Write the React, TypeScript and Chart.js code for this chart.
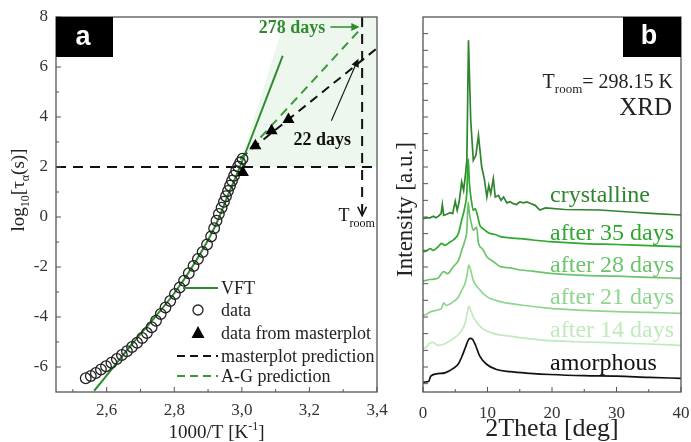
import React, { useEffect, useRef } from "react";
import { Chart, registerables } from "chart.js";
Chart.register(...registerables);

const SERIF = '"Liberation Serif", "Times New Roman", serif';
const SANS = '"Liberation Sans", Arial, sans-serif';

// ---------------- Panel a data ----------------
const aXRange = [2.45, 3.4];
const aYRange = [-7, 8];
const aXTicks = [2.6, 2.8, 3.0, 3.2, 3.4];
const aXMinor = [2.5, 2.7, 2.9, 3.1, 3.3];
const aYTicks = [-6, -4, -2, 0, 2, 4, 6, 8];
const aYMinor = [-5, -3, -1, 1, 3, 5, 7];

const dataX = [2.538, 2.553, 2.568, 2.583, 2.598, 2.614, 2.63, 2.645, 2.66, 2.675, 2.69, 2.705, 2.719, 2.733, 2.746, 2.76, 2.774, 2.788, 2.802, 2.816, 2.829, 2.843, 2.857, 2.87, 2.884, 2.897, 2.909, 2.918, 2.925, 2.932, 2.94, 2.947, 2.953, 2.959, 2.965, 2.971, 2.977, 2.983, 2.989, 2.995, 3.002];
const dataY = [-6.45, -6.36, -6.24, -6.1, -5.97, -5.83, -5.68, -5.52, -5.37, -5.2, -5.03, -4.84, -4.64, -4.41, -4.15, -3.88, -3.62, -3.36, -3.08, -2.82, -2.55, -2.25, -1.96, -1.68, -1.4, -1.1, -0.78, -0.45, -0.15, 0.12, 0.37, 0.61, 0.83, 1.04, 1.25, 1.45, 1.65, 1.84, 2.02, 2.18, 2.33];

const masterX = [3.003, 3.04, 3.088, 3.138];
const masterY = [1.78, 2.85, 3.45, 3.9];

const vftX = [2.563, 2.62, 2.68, 2.74, 2.8, 2.86, 2.92, 2.96, 3.0, 3.06, 3.121];
const vftY = [-6.95, -6.0, -5.0, -4.05, -3.05, -1.85, -0.4, 0.9, 2.2, 4.3, 6.45];

const mpPredX = [2.995, 3.4];
const mpPredY = [2.35, 6.75];
const agPredX = [2.995, 3.357];
const agPredY = [2.3, 7.6];

const levelX = [2.45, 3.4];
const levelY = [2, 2];
const troomLineX = [3.356, 3.356];
const troomLineY = [8, 0.05];

const shadeX = [3.0, 3.0, 3.13, 3.4, 3.4];
const shadeY = [2.0, 2.4, 8.0, 8.0, 2.0];

// ---------------- Panel b data ----------------
const bXRange = [0, 40];
const bYRange = [-0.5, 22];
const bXTicks = [0, 10, 20, 30, 40];
const bXMinor = [5, 15, 25, 35];
const bYTicks = [0, 1, 2, 3, 4, 5, 6, 7, 8, 9, 10, 11, 12, 13, 14, 15, 16, 17, 18, 19, 20, 21];

const amorphX = [0, 0.3, 0.9, 1.2, 2.3, 3.4, 4.7, 5.5, 6.0, 6.6, 7.0, 7.3, 7.7, 8.1, 8.8, 9.9, 11.4, 13.5, 16.6, 19.7, 25, 30, 35, 40];
const amorphY = [0.08, 0.1, 0.15, 0.45, 0.6, 0.65, 0.92, 1.2, 1.6, 2.2, 2.6, 2.72, 2.65, 2.35, 1.65, 1.15, 0.85, 0.72, 0.62, 0.55, 0.48, 0.45, 0.38, 0.32];

const d14X = [0, 0.5, 1.0, 1.5, 2.3, 3.4, 4.7, 5.5, 6.0, 6.5, 6.8, 7.1, 7.4, 7.8, 8.3, 9.1, 10.9, 13.5, 16.0, 19.7, 25, 30, 35, 40];
const d14Y = [2.12, 2.2, 2.42, 2.48, 2.3, 2.4, 2.7, 2.95, 3.2, 3.6, 4.1, 4.65, 4.4, 4.0, 3.7, 3.35, 3.02, 2.85, 2.72, 2.58, 2.5, 2.45, 2.38, 2.3];

const d21X = [0, 0.5, 1.1, 2.3, 2.9, 3.2, 3.6, 4.7, 5.5, 6.0, 6.5, 6.8, 7.1, 7.4, 7.8, 8.6, 9.9, 12.0, 15.1, 19.7, 25, 30, 35, 40];
const d21Y = [4.1, 4.15, 4.3, 4.42, 4.55, 4.85, 4.7, 4.92, 5.2, 5.6, 6.0, 6.45, 7.12, 6.8, 6.2, 5.72, 5.22, 4.92, 4.72, 4.52, 4.4, 4.32, 4.28, 4.22];

const d28X = [0, 0.5, 1.1, 2.3, 3.2, 3.8, 4.7, 5.5, 6.0, 6.5, 6.8, 7.0, 7.2, 7.5, 7.8, 8.3, 8.6, 9.2, 9.9, 11.0, 12.0, 13.5, 15.1, 17.0, 19.7, 25, 30, 35, 40];
const d28Y = [6.15, 6.2, 6.25, 6.32, 6.72, 6.6, 7.02, 7.4, 8.0, 8.6, 9.2, 10.9, 10.2, 9.6, 9.2, 9.4, 8.42, 8.1, 7.62, 7.3, 7.02, 6.95, 6.82, 6.75, 6.62, 6.5, 6.45, 6.38, 6.32];

const d35X = [0, 0.5, 1.1, 1.6, 2.3, 2.9, 3.4, 4.2, 4.7, 5.5, 6.0, 6.5, 6.8, 7.0, 7.2, 7.5, 7.8, 8.1, 8.5, 8.8, 9.3, 9.9, 10.5, 11.2, 12.0, 13.5, 15.1, 17.0, 19.7, 25, 30, 35, 40];
const d35Y = [7.92, 7.95, 8.1, 8.0, 8.2, 8.42, 8.3, 8.5, 8.62, 9.02, 9.82, 10.62, 11.5, 13.5, 12.0, 11.0, 10.4, 10.5, 10.0, 9.52, 9.3, 9.12, 9.0, 8.95, 8.82, 8.75, 8.7, 8.62, 8.52, 8.4, 8.35, 8.28, 8.22];

const crystX = [0, 0.5, 1.1, 1.6, 2.0, 2.4, 2.8, 3.0, 3.2, 3.6, 4.2, 4.6, 5.0, 5.3, 5.6, 6.0, 6.3, 6.6, 6.8, 7.05, 7.4, 7.8, 8.2, 8.6, 9.1, 9.5, 9.9, 10.2, 10.5, 10.9, 11.2, 11.7, 12.1, 12.5, 13.0, 13.5, 14.0, 14.5, 15.0, 15.6, 16.1, 16.6, 17.4, 18.1, 19.0, 22, 27.4, 32, 36, 40];
const crystY = [9.9, 9.95, 9.95, 10.05, 9.95, 10.05, 10.2, 10.75, 10.1, 10.15, 10.26, 10.2, 10.95, 10.4, 10.9, 12.1, 11.6, 12.6, 13.4, 20.6, 15.8, 13.4, 13.7, 14.9, 13.0, 12.3, 11.2, 11.9, 11.4, 12.3, 11.2, 11.3, 11.0, 11.2, 10.85, 10.92, 10.8, 10.75, 10.9, 10.85, 10.9, 10.82, 10.7, 10.42, 10.55, 10.45, 10.42, 10.3, 10.2, 10.12];

const bNames = ["crystalline", "after 35 days", "after 28 days", "after 21 days", "after 14 days", "amorphous"];
const bLabelY = [11.32, 9.04, 7.12, 5.2, 3.22, 1.24];
const bLabelX = 19.7;

const GREEN = "#2e8b2e";
const GREEN2 = "#3a9a3a";
const bColors = ["#2f852f", "#2ea82e", "#6cc46c", "#8ed68e", "#c0eabc", "#111111"];
const SHADE = "#edf7ee";

const pts = (xs: number[], ys: number[]) => xs.map((x, i) => ({ x, y: ys[i] }));

type Seg = { t: string; size: number; dy?: number; bold?: boolean; family?: string };
function segFont(s: Seg) {
  return `${s.bold ? "bold " : ""}${s.size}px ${s.family || SERIF}`;
}
function drawRich(ctx: CanvasRenderingContext2D, segs: Seg[], x: number, y: number, align: string) {
  let w = 0;
  segs.forEach((s) => {
    ctx.font = segFont(s);
    w += ctx.measureText(s.t).width;
  });
  let cx = align === "left" ? x : align === "center" ? x - w / 2 : x - w;
  ctx.textAlign = "left";
  ctx.textBaseline = "alphabetic";
  segs.forEach((s) => {
    ctx.font = segFont(s);
    ctx.fillText(s.t, cx, y + (s.dy || 0));
    cx += ctx.measureText(s.t).width;
  });
}
function arrowHead(ctx: CanvasRenderingContext2D, fx: number, fy: number, tx: number, ty: number, size: number, filled: boolean) {
  const a = Math.atan2(ty - fy, tx - fx);
  const w = 0.45;
  ctx.beginPath();
  ctx.moveTo(tx - size * Math.cos(a - w), ty - size * Math.sin(a - w));
  ctx.lineTo(tx, ty);
  ctx.lineTo(tx - size * Math.cos(a + w), ty - size * Math.sin(a + w));
  if (filled) {
    ctx.closePath();
    ctx.fill();
  } else ctx.stroke();
}
function drawFrameTicks(ctx: CanvasRenderingContext2D, chart: any, xMajor: number[], xMinor: number[], yMajor: number[], yMinor: number[], yMinLen: number) {
  const { chartArea: ar, scales } = chart;
  ctx.save();
  ctx.strokeStyle = "#555";
  ctx.lineWidth = 1.3;
  ctx.strokeRect(ar.left, ar.top, ar.right - ar.left, ar.bottom - ar.top);
  ctx.lineWidth = 1;
  const tx = (vals: number[], len: number) =>
    vals.forEach((v) => {
      const p = scales.x.getPixelForValue(v);
      ctx.beginPath();
      ctx.moveTo(p, ar.bottom);
      ctx.lineTo(p, ar.bottom - len);
      ctx.stroke();
    });
  const ty = (vals: number[], len: number) =>
    vals.forEach((v) => {
      const p = scales.y.getPixelForValue(v);
      ctx.beginPath();
      ctx.moveTo(ar.left, p);
      ctx.lineTo(ar.left + len, p);
      ctx.stroke();
    });
  tx(xMajor, 5);
  tx(xMinor, 3);
  ty(yMajor, 5);
  ty(yMinor, yMinLen);
  ctx.restore();
}

const panelAPlugin = {
  id: "panelA",
  beforeDatasetsDraw(chart: any) {
    const { ctx, scales } = chart;
    ctx.save();
    ctx.beginPath();
    shadeX.forEach((v, i) => {
      const px = scales.x.getPixelForValue(v);
      const py = scales.y.getPixelForValue(shadeY[i]);
      if (i) ctx.lineTo(px, py);
      else ctx.moveTo(px, py);
    });
    ctx.closePath();
    ctx.fillStyle = SHADE;
    ctx.fill();
    ctx.restore();
  },
  afterDraw(chart: any) {
    const { ctx, chartArea: ar, scales } = chart;
    const X = (v: number) => scales.x.getPixelForValue(v);
    const Y = (v: number) => scales.y.getPixelForValue(v);
    drawFrameTicks(ctx, chart, aXTicks, aXMinor, aYTicks, aYMinor, 3);
    ctx.save();
    // label box
    ctx.fillStyle = "#000";
    ctx.fillRect(ar.left, ar.top, 57, 40);
    ctx.fillStyle = "#fff";
    ctx.font = `bold 27px ${SANS}`;
    ctx.textAlign = "center";
    ctx.textBaseline = "middle";
    ctx.fillText("a", ar.left + 27, ar.top + 21);

    // arrow head at bottom of T_room line
    ctx.strokeStyle = "#111";
    ctx.lineWidth = 1.6;
    const tX = X(troomLineX[1]);
    const tY = Y(troomLineY[1]);
    arrowHead(ctx, tX, tY - 20, tX, tY, 10, false);

    // 278 days
    ctx.fillStyle = GREEN;
    drawRich(ctx, [{ t: "278 days", size: 18, bold: true }], X(3.247), Y(7.6) + 6, "right");
    ctx.strokeStyle = GREEN;
    ctx.lineWidth = 1.5;
    ctx.beginPath();
    ctx.moveTo(X(3.262), Y(7.6));
    ctx.lineTo(X(3.344), Y(7.6));
    ctx.stroke();
    arrowHead(ctx, X(3.262), Y(7.6), X(3.348), Y(7.6), 9, true);

    // 22 days
    ctx.fillStyle = "#111";
    drawRich(ctx, [{ t: "22 days", size: 18, bold: true }], X(3.153), Y(3.12) + 6, "left");
    ctx.strokeStyle = "#111";
    ctx.lineWidth = 1.1;
    ctx.beginPath();
    ctx.moveTo(X(3.265), Y(3.85));
    ctx.lineTo(X(3.342), Y(6.25));
    ctx.stroke();
    arrowHead(ctx, X(3.265), Y(3.85), X(3.345), Y(6.33), 9, true);

    // T_room
    ctx.fillStyle = "#111";
    drawRich(ctx, [{ t: "T", size: 18 }, { t: "room", size: 12, dy: 6 }], X(3.286), Y(-0.16), "left");

    // legend
    const lx = 221;
    const sx0 = 177, sx1 = 218, sc = 198;
    const rows = [288, 310, 333, 356, 376];
    const names = ["VFT", "data", "data from masterplot", "masterplot prediction", "A-G prediction"];
    ctx.strokeStyle = GREEN;
    ctx.lineWidth = 2;
    ctx.beginPath();
    ctx.moveTo(183, rows[0]);
    ctx.lineTo(sx1, rows[0]);
    ctx.stroke();
    ctx.strokeStyle = "#222";
    ctx.lineWidth = 1.3;
    ctx.beginPath();
    ctx.arc(sc, rows[1], 5, 0, Math.PI * 2);
    ctx.stroke();
    ctx.fillStyle = "#000";
    ctx.beginPath();
    ctx.moveTo(sc, rows[2] - 7);
    ctx.lineTo(sc + 6.5, rows[2] + 5);
    ctx.lineTo(sc - 6.5, rows[2] + 5);
    ctx.closePath();
    ctx.fill();
    ctx.setLineDash([8, 5]);
    ctx.lineWidth = 2;
    ctx.strokeStyle = "#111";
    ctx.beginPath();
    ctx.moveTo(sx0, rows[3]);
    ctx.lineTo(sx1, rows[3]);
    ctx.stroke();
    ctx.strokeStyle = GREEN2;
    ctx.beginPath();
    ctx.moveTo(sx0, rows[4]);
    ctx.lineTo(sx1, rows[4]);
    ctx.stroke();
    ctx.setLineDash([]);
    ctx.fillStyle = "#222";
    names.forEach((n, i) => drawRich(ctx, [{ t: n, size: 18 }], lx, rows[i] + 6, "left"));

    // axis titles
    ctx.fillStyle = "#222";
    drawRich(ctx, [{ t: "1000/T [K", size: 19 }, { t: "-1", size: 12, dy: -8 }, { t: "]", size: 19 }], (ar.left + ar.right) / 2, 438, "center");
    ctx.translate(24, 190);
    ctx.rotate(-Math.PI / 2);
    drawRich(ctx, [{ t: "log", size: 19 }, { t: "10", size: 12, dy: 5 }, { t: "[τ", size: 19 }, { t: "α", size: 12, dy: 5 }, { t: "(s)]", size: 19 }], 0, 0, "center");
    ctx.restore();
  },
};

const panelBPlugin = {
  id: "panelB",
  afterDraw(chart: any) {
    const { ctx, chartArea: ar, scales } = chart;
    const X = (v: number) => scales.x.getPixelForValue(v);
    const Y = (v: number) => scales.y.getPixelForValue(v);
    drawFrameTicks(ctx, chart, bXTicks, bXMinor, bYTicks, [], 4);
    ctx.save();
    ctx.fillStyle = "#000";
    ctx.fillRect(ar.right - 58, ar.top, 58, 40);
    ctx.fillStyle = "#fff";
    ctx.font = `bold 27px ${SANS}`;
    ctx.textAlign = "center";
    ctx.textBaseline = "middle";
    ctx.fillText("b", ar.right - 32, ar.top + 20);

    ctx.fillStyle = "#222";
    drawRich(ctx, [{ t: "T", size: 20 }, { t: "room", size: 13, dy: 5 }, { t: "= 298.15 K", size: 20 }], X(38.76), Y(17.74), "right");
    drawRich(ctx, [{ t: "XRD", size: 25 }], X(38.6), Y(16.12), "right");

    bNames.forEach((n, i) => {
      ctx.fillStyle = bColors[i];
      drawRich(ctx, [{ t: n, size: 24 }], X(bLabelX), Y(bLabelY[i]) + 7, "left");
    });

    ctx.fillStyle = "#222";
    drawRich(ctx, [{ t: "2Theta [deg]", size: 26 }], (ar.left + ar.right) / 2, 436, "center");
    ctx.translate(27, (ar.top + ar.bottom) / 2 + 5);
    ctx.rotate(-Math.PI / 2);
    drawRich(ctx, [{ t: "Intensity [a.u.]", size: 23 }], 0, 0, "center");
    ctx.restore();
  },
};

const tickFont = { family: SERIF, size: 17 };

function fitX(s: any) {
  s.height = 50;
  s.paddingRight = 0;
  s.paddingLeft = 0;
}

function PanelA() {
  const ref = useRef<HTMLCanvasElement>(null);
  useEffect(() => {
    const chart = new Chart(ref.current!, {
      type: "scatter",
      data: {
        datasets: [
          { data: pts(masterX, masterY), pointStyle: "triangle", pointRadius: 7, backgroundColor: "#000", borderColor: "#000", borderWidth: 0 },
          { data: pts(dataX, dataY), pointStyle: "circle", pointRadius: 5.3, backgroundColor: "transparent", borderColor: "#222", borderWidth: 1.3 },
          { data: pts(vftX, vftY), showLine: true, pointRadius: 0, borderColor: GREEN, borderWidth: 2, cubicInterpolationMode: "monotone" },
          { data: pts(agPredX, agPredY), showLine: true, pointRadius: 0, borderColor: GREEN2, borderWidth: 2, borderDash: [9, 6] },
          { data: pts(mpPredX, mpPredY), showLine: true, pointRadius: 0, borderColor: "#111", borderWidth: 2, borderDash: [9, 6] },
          { data: pts(levelX, levelY), showLine: true, pointRadius: 0, borderColor: "#111", borderWidth: 2, borderDash: [10, 7] },
          { data: pts(troomLineX, troomLineY), showLine: true, pointRadius: 0, borderColor: "#111", borderWidth: 2, borderDash: [10, 7] },
        ] as any,
      },
      options: {
        animation: false,
        responsive: false,
        maintainAspectRatio: false,
        layout: { padding: { top: 17, right: 23, left: 0, bottom: 0 } },
        plugins: { legend: { display: false }, tooltip: { enabled: false } },
        scales: {
          x: {
            type: "linear",
            min: aXRange[0],
            max: aXRange[1],
            grid: { display: false, drawTicks: false },
            border: { display: false },
            afterBuildTicks: (s: any) => { s.ticks = aXTicks.map((v) => ({ value: v })); },
            afterFit: fitX,
            ticks: { font: tickFont, color: "#333", padding: 8, maxRotation: 0, callback: (v: any) => Number(v).toFixed(1).replace(".", ",") },
          },
          y: {
            type: "linear",
            min: aYRange[0],
            max: aYRange[1],
            grid: { display: false, drawTicks: false },
            border: { display: false },
            afterBuildTicks: (s: any) => { s.ticks = aYTicks.map((v) => ({ value: v })); },
            afterFit: (s: any) => { s.width = 56; s.paddingTop = 0; s.paddingBottom = 0; },
            ticks: { font: tickFont, color: "#333", padding: 8 },
          },
        },
      } as any,
      plugins: [panelAPlugin],
    });
    return () => chart.destroy();
  }, []);
  return <canvas ref={ref} width={400} height={442} style={{ position: "absolute", left: 0, top: 0 }} />;
}

function PanelB() {
  const ref = useRef<HTMLCanvasElement>(null);
  useEffect(() => {
    const series = [
      [crystX, crystY],
      [d35X, d35Y],
      [d28X, d28Y],
      [d21X, d21Y],
      [d14X, d14Y],
      [amorphX, amorphY],
    ];
    const chart = new Chart(ref.current!, {
      type: "scatter",
      data: {
        datasets: series.map(([xs, ys], i) => ({
          label: bNames[i],
          data: pts(xs, ys),
          showLine: true,
          pointRadius: 0,
          borderColor: bColors[i],
          borderWidth: 1.7,
          cubicInterpolationMode: i === 0 ? "default" : "monotone",
          tension: 0,
        })) as any,
      },
      options: {
        animation: false,
        responsive: false,
        maintainAspectRatio: false,
        layout: { padding: { top: 17, right: 10, left: 0, bottom: 0 } },
        plugins: { legend: { display: false }, tooltip: { enabled: false } },
        scales: {
          x: {
            type: "linear",
            min: bXRange[0],
            max: bXRange[1],
            grid: { display: false, drawTicks: false },
            border: { display: false },
            afterBuildTicks: (s: any) => { s.ticks = bXTicks.map((v) => ({ value: v })); },
            afterFit: fitX,
            ticks: { font: tickFont, color: "#333", padding: 11, maxRotation: 0 },
          },
          y: {
            type: "linear",
            min: bYRange[0],
            max: bYRange[1],
            grid: { display: false, drawTicks: false },
            border: { display: false },
            afterFit: (s: any) => { s.width = 38; s.paddingTop = 0; s.paddingBottom = 0; },
            ticks: { display: false },
          },
        },
      } as any,
      plugins: [panelBPlugin],
    });
    return () => chart.destroy();
  }, []);
  return <canvas ref={ref} width={306} height={442} style={{ position: "absolute", left: 385, top: 0 }} />;
}

export default function App() {
  return (
    <div style={{ position: "absolute", left: 0, top: 0, width: 691, height: 442, background: "#fff", overflow: "hidden" }}>
      <PanelA />
      <PanelB />
    </div>
  );
}
